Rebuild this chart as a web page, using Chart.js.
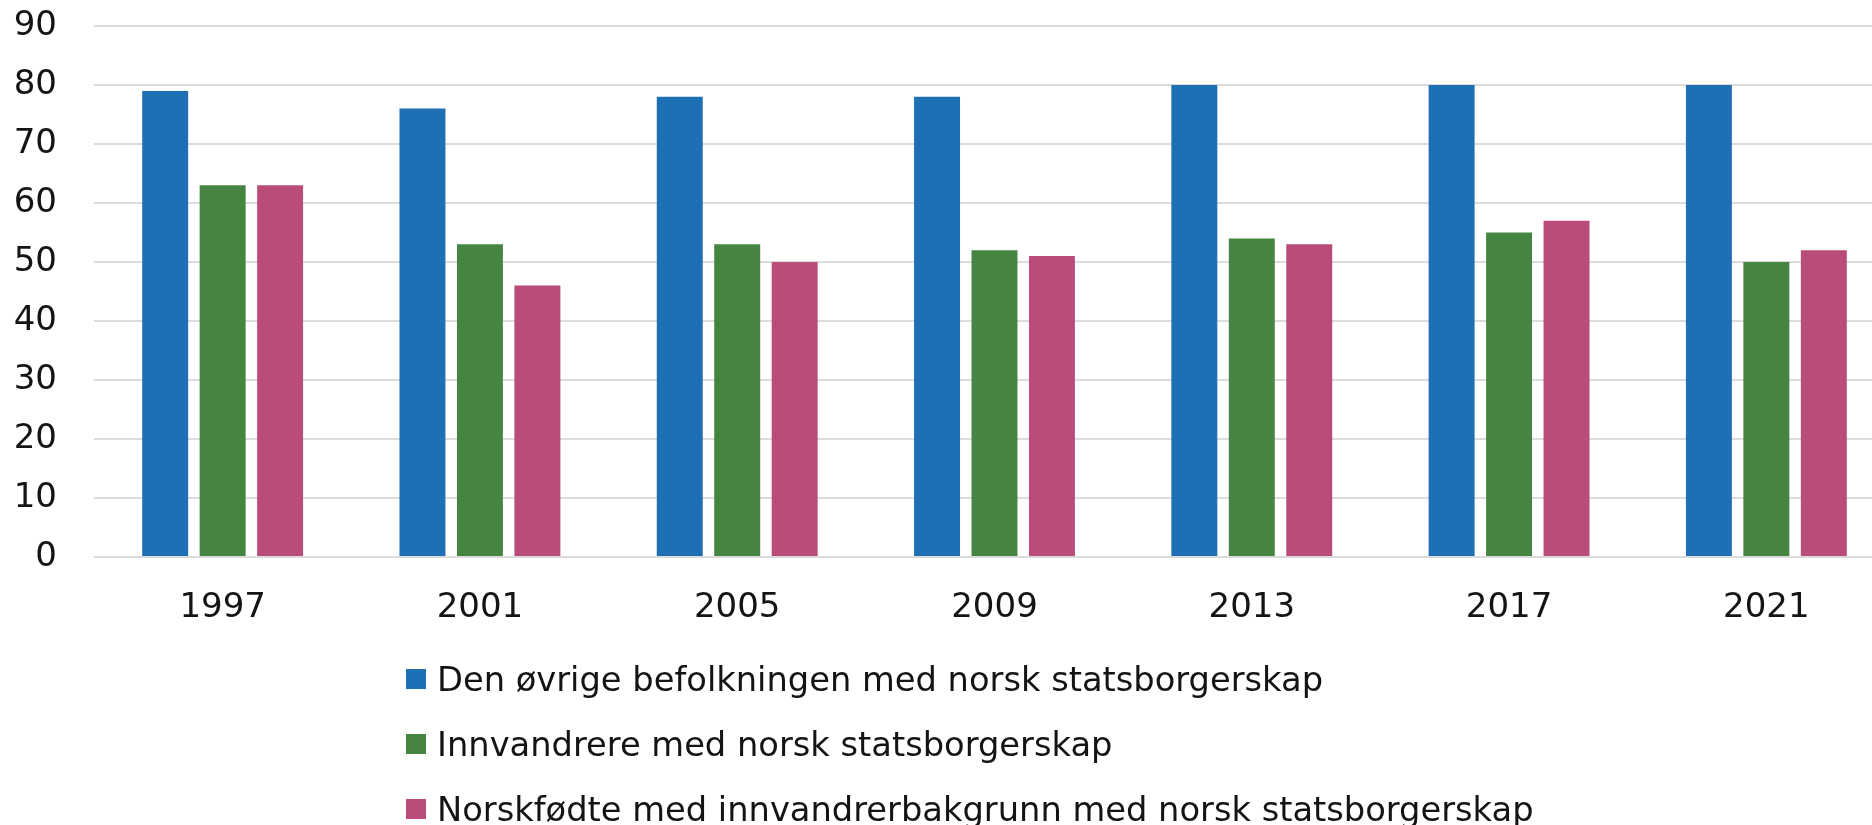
<!DOCTYPE html>
<html>
<head>
<meta charset="utf-8">
<script src="https://cdn.jsdelivr.net/npm/chart.js@4/dist/chart.umd.min.js"></script>
<style>
  html, body { margin: 0; padding: 0; background: #fff; overflow: hidden; }
  #wrap { position: relative; width: 1872px; height: 825px; overflow: hidden; }
  #c { position: absolute; left: 0; top: 0; }
  #legend { position: absolute; left: 406px; top: 0; font-family: "DejaVu Sans", Verdana, sans-serif; font-size: 33.7px; color: #141414; }
  .item { position: absolute; left: 0; white-space: nowrap; display: flex; align-items: center; }
  .box { width: 20px; height: 20px; margin-right: 11px; flex: none; }
</style>
</head>
<body>
<div id="wrap">
  <canvas id="c" width="1896" height="825"></canvas>
  <div id="legend"></div>
</div>
<script>
const categories = ["1997", "2001", "2005", "2009", "2013", "2017", "2021"];
const seriesNames = [
  "Den øvrige befolkningen med norsk statsborgerskap",
  "Innvandrere med norsk statsborgerskap",
  "Norskfødte med innvandrerbakgrunn med norsk statsborgerskap"
];
const ovrige = [79, 76, 78, 78, 80, 80, 80];
const innvandrere = [63, 53, 53, 52, 54, 55, 50];
const norskfodte = [63, 46, 50, 51, 53, 57, 52];
const yTicks = [0, 10, 20, 30, 40, 50, 60, 70, 80, 90];
const colors = ["#1f6fb5", "#458541", "#ba4c7a"];

const seriesValues = [ovrige, innvandrere, norskfodte];
const fontFamily = '"DejaVu Sans", Verdana, sans-serif';

const chart = new Chart(document.getElementById('c'), {
  type: 'bar',
  data: {
    labels: categories,
    datasets: seriesValues.map((vals, i) => ({
      label: seriesNames[i],
      data: vals,
      backgroundColor: colors[i],
      borderWidth: 0,
      categoryPercentage: 0.67,
      barPercentage: 0.8
    }))
  },
  options: {
    responsive: false,
    animation: false,
    events: [],
    layout: { padding: { left: 0, right: 1, top: 26, bottom: 0 } },
    plugins: { legend: { display: false }, tooltip: { enabled: false } },
    scales: {
      x: {
        grid: { display: false, drawTicks: false },
        border: { display: false },
        ticks: { color: '#141414', font: { family: fontFamily, size: 34 }, padding: 31 },
        afterFit: (axis) => { axis.height = 268; }
      },
      y: {
        min: 0,
        max: yTicks[yTicks.length - 1],
        afterBuildTicks: (axis) => { axis.ticks = yTicks.map(v => ({ value: v })); },
        grid: { color: '#dcdcdc', lineWidth: 2, drawTicks: false },
        border: { display: false },
        ticks: { color: '#141414', font: { family: fontFamily, size: 34 }, padding: 37 },
        afterFit: (axis) => { axis.width = 94; axis.paddingTop = 0; axis.paddingBottom = 0; }
      }
    }
  }
});

const legend = document.getElementById('legend');
const rowY = [679, 744, 809];
seriesNames.forEach((name, i) => {
  const item = document.createElement('div');
  item.className = 'item';
  item.style.top = (rowY[i] - 20) + 'px';
  item.style.height = '40px';
  const box = document.createElement('span');
  box.className = 'box';
  box.style.background = colors[i];
  const txt = document.createElement('span');
  txt.textContent = name;
  item.appendChild(box);
  item.appendChild(txt);
  legend.appendChild(item);
});
</script>
</body>
</html>
